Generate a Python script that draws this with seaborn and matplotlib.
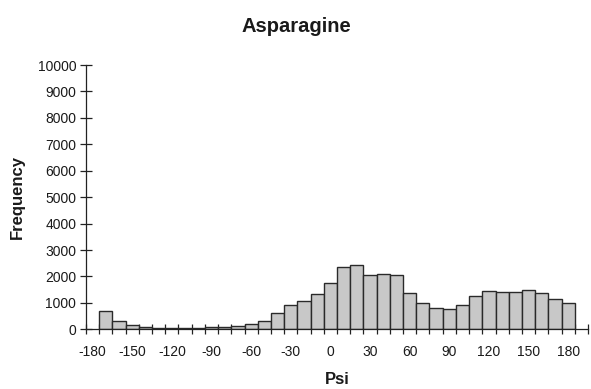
import numpy as np
import pandas as pd
import matplotlib
matplotlib.use("Agg")
import matplotlib.pyplot as plt
import seaborn as sns

# Category slots (-180 .. 190 step 10); first and last slot are empty
categories = [str(v) for v in range(-180, 200, 10)]
frequency = [np.nan,
             700, 330, 180, 90, 40, 50, 60, 65, 75, 90,
             115, 190, 300, 605, 910, 1060, 1340, 1740, 2345, 2420,
             2055, 2080, 2055, 1390, 985, 795, 755, 910, 1260, 1440,
             1400, 1425, 1490, 1390, 1135, 985,
             np.nan]
tick_labels = [str(v) for v in range(-180, 181, 30)]
y_ticks = list(range(0, 10001, 1000))

df = pd.DataFrame({"psi": categories, "freq": frequency})

sns.set_style("white")
plt.rcParams['font.family'] = ['Liberation Sans', 'DejaVu Sans']
plt.rcParams['text.color'] = '#1a1a1a'
plt.rcParams['xtick.color'] = '#1a1a1a'
plt.rcParams['ytick.color'] = '#1a1a1a'

fig = plt.figure(figsize=(5.91, 3.89), dpi=100)
ax = fig.add_axes([86/591, 1-329.3/389, (588-86)/591, (329.3-65)/389])

sns.barplot(data=df, x="psi", y="freq", order=categories, color="#c8c8c8",
            saturation=1, edgecolor="#2a2a2a", linewidth=1.0, width=1.0,
            errorbar=None, ax=ax)

ax.set_xlim(-0.5, len(categories) - 0.5)
ax.set_ylim(0, 10000)
ax.set_yticks(y_ticks)
ax.set_yticklabels([str(v) for v in y_ticks], fontsize=10)

label_pos = [categories.index(t) for t in tick_labels]
ax.set_xticks(label_pos)
ax.set_xticklabels(tick_labels, fontsize=10)
ax.tick_params(axis='x', which='major', bottom=False, length=0, pad=11)
ax.set_xticks([k - 0.5 for k in range(len(categories) + 1)], minor=True)
ax.tick_params(axis='x', which='minor', bottom=True, direction='inout', length=7, width=0.9, color='#222222')
ax.tick_params(axis='y', which='major', left=True, direction='inout', length=8, width=0.9, color='#222222', pad=3)

for s in ['top', 'right']:
    ax.spines[s].set_visible(False)
for s in ['left', 'bottom']:
    ax.spines[s].set_color('#222222')
    ax.spines[s].set_linewidth(0.9)

ax.set_xlabel("")
ax.set_ylabel("")
fig.text(296/591, 1-27/389, "Asparagine", ha='center', va='center', fontsize=14.5, fontweight='bold')
fig.text(17/591, 1-197/389, "Frequency", ha='center', va='center', rotation=90, fontsize=12, fontweight='bold')
fig.text(337/591, 1-380/389, "Psi", ha='center', va='center', fontsize=12, fontweight='bold')

fig.savefig("out.png", dpi=100)
